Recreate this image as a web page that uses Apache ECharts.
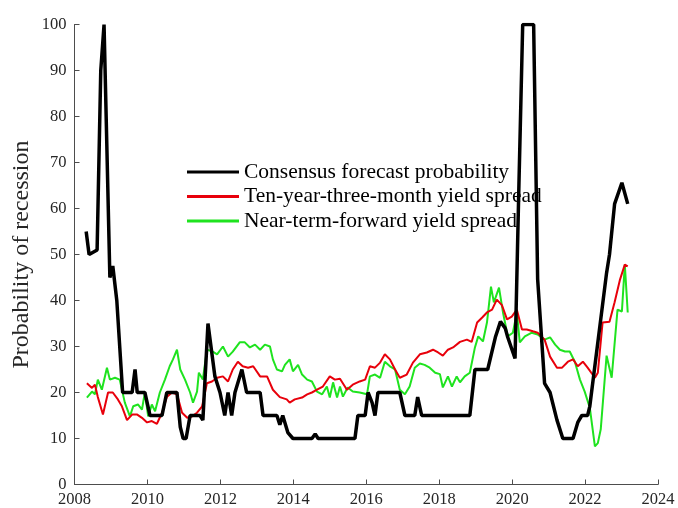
<!DOCTYPE html>
<html>
<head>
<meta charset="utf-8">
<script src="https://cdn.jsdelivr.net/npm/echarts@6/dist/echarts.min.js"></script>
<style>html,body{margin:0;padding:0;background:#fff}#c{width:678px;height:508px}</style>
</head>
<body>
<div id="c"></div>
<script>
var seriesNames = ['Consensus forecast probability', 'Ten-year-three-month yield spread', 'Near-term-forward yield spread'];
var xTicks = [2008, 2010, 2012, 2014, 2016, 2018, 2020, 2022, 2024];
var yTicks = [0, 10, 20, 30, 40, 50, 60, 70, 80, 90, 100];

var consensus = [
[2008.32,55],[2008.40,50],[2008.51,50.5],[2008.62,51],[2008.72,90],[2008.81,100],[2008.97,45],[2009.05,47.5],[2009.16,40],
[2009.32,20],[2009.58,20],[2009.66,25],[2009.72,20],[2009.93,20],[2010.07,15],[2010.40,15],[2010.53,20],[2010.81,20],
[2010.90,12.5],[2010.98,10],[2011.06,10],[2011.17,15],[2011.44,15],[2011.52,14],[2011.66,35],[2011.85,23.5],[2011.99,20],
[2012.12,15],[2012.21,20],[2012.31,15],[2012.40,20],[2012.59,25],[2012.72,20],[2013.09,20],[2013.17,15],[2013.55,15],
[2013.63,13],[2013.71,15],[2013.85,11.3],[2013.99,10],[2014.51,10],[2014.60,11],[2014.68,10],[2015.69,10],[2015.77,15],
[2015.97,15],[2016.05,20],[2016.16,17.8],[2016.24,15],[2016.32,20],[2016.92,20],[2017.06,15],[2017.33,15],[2017.41,19],
[2017.52,15],[2018.84,15],[2018.98,25],[2019.33,25],[2019.54,32],[2019.68,35.4],[2019.81,34],[2019.88,32],[2020.08,27.4],
[2020.18,63],[2020.29,100],[2020.59,100],[2020.70,44.6],[2020.89,22],[2021.04,20],[2021.23,14],[2021.39,10],[2021.67,10],
[2021.80,13.5],[2021.91,15],[2022.07,15],[2022.13,17],[2022.59,46],[2022.67,50],[2022.81,61],[2023.01,65.6],[2023.17,61]
];

var tenYearThreeMonth = [
[2008.34,22],[2008.48,21],[2008.56,21.7],[2008.64,19],[2008.78,15.2],[2008.92,20],[2009.05,20],[2009.19,18.5],[2009.30,17],
[2009.44,14],[2009.58,15.2],[2009.72,15.2],[2009.85,14.5],[2009.99,13.5],[2010.12,13.8],[2010.26,13.2],[2010.40,15.6],
[2010.53,19],[2010.67,20],[2010.81,19.6],[2010.95,15.6],[2011.09,14.5],[2011.22,14.8],[2011.36,15.6],[2011.50,17],
[2011.63,22],[2011.77,22.4],[2011.91,23.2],[2012.07,23.5],[2012.21,22.4],[2012.34,25],[2012.48,26.7],[2012.61,25.7],
[2012.76,25.4],[2012.90,25.7],[2013.09,23.5],[2013.28,23.5],[2013.44,20.6],[2013.63,19],[2013.82,18.5],[2013.90,17.8],
[2014.04,18.5],[2014.24,18.9],[2014.38,19.6],[2014.51,20],[2014.65,20.6],[2014.81,21.3],[2015.00,23.5],[2015.14,22.8],
[2015.28,23],[2015.47,20.6],[2015.63,21.7],[2015.82,22.4],[2015.97,22.8],[2016.10,25.7],[2016.24,25.4],[2016.38,26.5],
[2016.51,28.3],[2016.65,27.2],[2016.79,25],[2016.92,23.2],[2017.11,23.9],[2017.28,26.5],[2017.47,28.3],[2017.66,28.7],
[2017.83,29.3],[2017.97,28.7],[2018.10,28],[2018.24,29.3],[2018.38,29.8],[2018.57,31],[2018.76,31.5],[2018.89,31],
[2019.04,35.2],[2019.18,36.3],[2019.31,37.4],[2019.45,38],[2019.58,40.2],[2019.72,39],[2019.86,35.9],[2019.99,36.5],
[2020.13,38],[2020.27,33.7],[2020.40,33.7],[2020.57,33.3],[2020.70,33],[2020.89,31.5],[2021.04,27.8],[2021.23,25.4],
[2021.37,25.4],[2021.53,26.7],[2021.67,27.2],[2021.80,25.7],[2021.94,26.7],[2022.07,25.4],[2022.27,23.2],[2022.35,24.3],
[2022.48,35.2],[2022.67,35.4],[2022.81,39.6],[2022.96,44.6],[2023.09,47.8],[2023.17,47.4]
];

var nearTermForward = [
[2008.34,18.9],[2008.48,20.2],[2008.56,19.6],[2008.64,22.8],[2008.75,20.6],[2008.89,25.4],[2008.97,22.8],[2009.11,23.2],
[2009.24,22.8],[2009.38,17.8],[2009.52,14.8],[2009.61,17],[2009.74,17.4],[2009.85,16.3],[2009.93,20],[2010.02,14.8],
[2010.12,17.4],[2010.21,15.9],[2010.34,20],[2010.48,22.8],[2010.61,25.7],[2010.70,27.2],[2010.81,29.3],[2010.90,25],
[2011.03,22.8],[2011.17,20],[2011.25,17.8],[2011.36,20.2],[2011.41,24.3],[2011.52,22.8],[2011.63,29.3],[2011.77,29],
[2011.91,28.3],[2012.07,30],[2012.21,27.8],[2012.34,28.9],[2012.53,30.9],[2012.67,30.9],[2012.81,29.8],[2012.95,30.4],
[2013.09,29.3],[2013.22,30.4],[2013.36,30],[2013.44,27.2],[2013.55,25],[2013.69,24.6],[2013.77,26],[2013.90,27.2],
[2013.99,24.6],[2014.13,26],[2014.24,23.9],[2014.38,22.8],[2014.51,22.4],[2014.65,20.2],[2014.79,19.6],[2014.92,21.3],
[2015.00,18.9],[2015.09,22.2],[2015.20,18.9],[2015.28,21.3],[2015.36,19.1],[2015.49,21.1],[2015.63,20.2],[2015.82,20],
[2016.02,19.6],[2016.10,23.5],[2016.24,23.9],[2016.38,23.2],[2016.51,26.7],[2016.65,25.7],[2016.79,25],[2016.92,20.6],
[2017.06,19.6],[2017.19,21.3],[2017.33,25.4],[2017.47,26.3],[2017.60,26],[2017.74,25.4],[2017.89,24.3],[2018.02,24],
[2018.10,21.1],[2018.24,23.5],[2018.35,21.3],[2018.48,23.5],[2018.57,22.2],[2018.70,23.5],[2018.84,24.3],[2018.98,29.8],
[2019.07,32.2],[2019.20,31.1],[2019.31,35.2],[2019.42,43],[2019.50,39.6],[2019.64,42.8],[2019.75,37.4],[2019.88,32.2],
[2020.02,33],[2020.13,37.4],[2020.21,30.9],[2020.35,32.2],[2020.54,33],[2020.70,32.6],[2020.89,31.5],[2021.04,32],
[2021.18,30.4],[2021.31,29.3],[2021.45,28.9],[2021.58,28.9],[2021.72,26.7],[2021.86,22.8],[2021.99,20.2],[2022.13,16.7],
[2022.27,8.3],[2022.35,9],[2022.43,12],[2022.59,28],[2022.73,23.2],[2022.89,38],[2023.01,37.6],[2023.09,47.8],[2023.17,37.4]
];

var serif = 'Liberation Serif';
var axisColor = '#4d4d4d';
var chart = echarts.init(document.getElementById('c'), null, {renderer: 'canvas'});
chart.setOption({
  animation: false,
  backgroundColor: '#fff',
  grid: {left: 74.5, right: 20, top: 24.5, bottom: 23.5, containLabel: false, outerBoundsMode: 'none'},
  legend: {
    orient: 'vertical', left: 187, top: 161, itemGap: 2.5, padding: 0,
    itemWidth: 52, itemHeight: 3, icon: 'rect',
    textStyle: {fontFamily: serif, fontSize: 21.5, color: '#000'},
    data: seriesNames
  },
  xAxis: {
    type: 'value', min: xTicks[0], max: xTicks[xTicks.length - 1], interval: 2,
    axisLine: {show: true, lineStyle: {color: axisColor, width: 1}},
    axisTick: {show: true, inside: true, length: 5, lineStyle: {color: axisColor}},
    axisLabel: {fontFamily: serif, fontSize: 16.5, color: '#262626', margin: 7, formatter: function (v) { return String(v); }},
    splitLine: {show: false}
  },
  yAxis: {
    type: 'value', min: yTicks[0], max: yTicks[yTicks.length - 1], interval: 10,
    name: 'Probability of recession', nameLocation: 'middle', nameGap: 41, nameMoveOverlap: false,
    nameTextStyle: {fontFamily: serif, fontSize: 24, color: '#262626'},
    axisLine: {show: true, lineStyle: {color: axisColor, width: 1}},
    axisTick: {show: true, inside: true, length: 5, lineStyle: {color: axisColor}},
    axisLabel: {fontFamily: serif, fontSize: 16.5, color: '#262626', margin: 8},
    splitLine: {show: false}
  },
  series: [
    {name: seriesNames[0], type: 'line', data: consensus, showSymbol: false, color: '#000',
     lineStyle: {color: '#000', width: 3.5}, itemStyle: {color: '#000'}, z: 3},
    {name: seriesNames[1], type: 'line', data: tenYearThreeMonth, showSymbol: false, color: '#e8000b',
     lineStyle: {color: '#e8000b', width: 2}, itemStyle: {color: '#e8000b'}, z: 2},
    {name: seriesNames[2], type: 'line', data: nearTermForward, showSymbol: false, color: '#1fe31f',
     lineStyle: {color: '#1fe31f', width: 2}, itemStyle: {color: '#1fe31f'}, z: 1}
  ]
});
</script>
</body>
</html>
